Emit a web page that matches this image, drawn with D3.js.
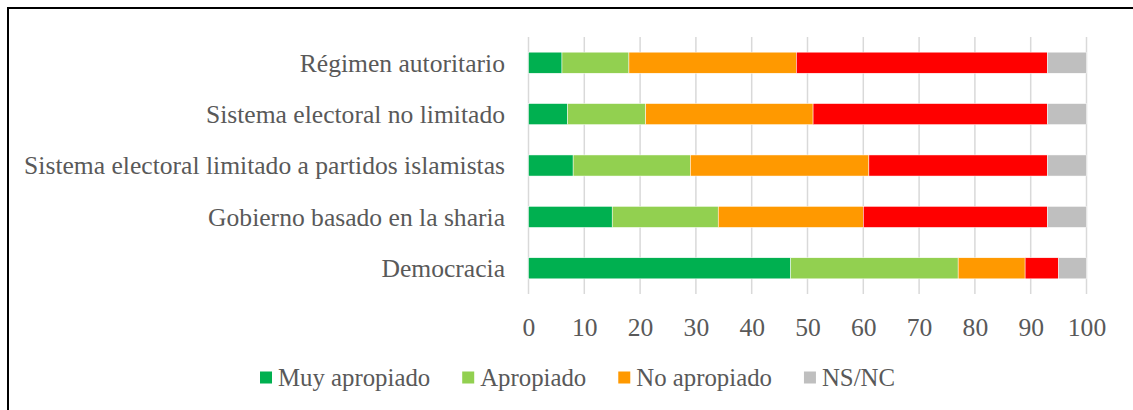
<!DOCTYPE html>
<html>
<head>
<meta charset="utf-8">
<script src="https://cdn.jsdelivr.net/npm/d3@7"></script>
<style>
  html, body { margin: 0; padding: 0; background: #fff; }
  svg { display: block; }
  text { font-family: "Liberation Serif", "DejaVu Serif", serif; fill: #595959; }
</style>
</head>
<body>
<div id="chart"></div>
<script>
const W = 1133;
const H = 410;

// rows, top to bottom
const categories = [
  "Régimen autoritario",
  "Sistema electoral no limitado",
  "Sistema electoral limitado a partidos islamistas",
  "Gobierno basado en la sharia",
  "Democracia",
];

const muyApropiado = [6, 7, 8, 15, 47];
const apropiado = [12, 14, 21, 19, 30];
const noApropiado = [30, 30, 32, 26, 12];
const nadaApropiado = [45, 42, 32, 33, 6]; // red series, no legend entry in the original
const nsnc = [7, 7, 7, 7, 5];

const seriesKeys = ["Muy apropiado", "Apropiado", "No apropiado", "Nada apropiado", "NS/NC"];
const seriesColors = ["#00B050", "#92D050", "#FF9900", "#FF0000", "#BFBFBF"];
const legendKeys = ["Muy apropiado", "Apropiado", "No apropiado", "NS/NC"];
const xTicks = [0, 10, 20, 30, 40, 50, 60, 70, 80, 90, 100];

const rows = categories.map((c, i) => ({
  cat: c,
  "Muy apropiado": muyApropiado[i],
  "Apropiado": apropiado[i],
  "No apropiado": noApropiado[i],
  "Nada apropiado": nadaApropiado[i],
  "NS/NC": nsnc[i],
}));

const svg = d3.select("#chart").append("svg")
  .attr("width", W)
  .attr("height", H);

// frame (only top and left edges fall inside the picture)
svg.append("path")
  .attr("d", `M8,${H + 5} V8 H${W + 5}`)
  .attr("fill", "none")
  .attr("stroke", "#000")
  .attr("stroke-width", 2);

const x = d3.scaleLinear().domain([0, 100]).range([528.5, 1086.5]);
const y = d3.scaleBand().domain(categories).range([37, 294]).paddingInner(0.59).paddingOuter(0.295);
const color = d3.scaleOrdinal().domain(seriesKeys).range(seriesColors);

// gridlines
svg.append("g")
  .selectAll("line")
  .data(xTicks)
  .join("line")
  .attr("x1", (d) => x(d))
  .attr("x2", (d) => x(d))
  .attr("y1", 37)
  .attr("y2", 294)
  .attr("stroke", "#d9d9d9")
  .attr("stroke-width", 1.5);

// bars
const stack = d3.stack().keys(seriesKeys);
svg.append("g")
  .selectAll("g")
  .data(stack(rows))
  .join("g")
  .attr("fill", (d) => color(d.key))
  .selectAll("rect")
  .data((d) => d)
  .join("rect")
  .attr("x", (d) => x(d[0]))
  .attr("width", (d) => x(d[1]) - x(d[0]))
  .attr("y", (d) => y(d.data.cat))
  .attr("height", y.bandwidth())
  .attr("stroke", "#fff")
  .attr("stroke-width", 0.5);

// category labels
const labels = svg.append("g")
  .selectAll("text")
  .data(categories)
  .join("text")
  .attr("x", 505)
  .attr("y", (d) => y(d) + y.bandwidth() / 2)
  .attr("dy", "0.35em")
  .attr("text-anchor", "end")
  .style("font-size", "20px")
  .text((d) => d);

// fit the longest label to the width it takes in the original (about 481px)
const longest = labels.filter((d) => d === categories[2]).node();
const fs = 20 * 481 / longest.getComputedTextLength();
labels.style("font-size", `${fs}px`);

// x tick labels
const xAxis = d3.axisBottom(x).tickValues(xTicks).tickSize(0).tickPadding(0);
const axisG = svg.append("g")
  .attr("transform", "translate(0,318)")
  .call(xAxis);
axisG.select(".domain").remove();
axisG.selectAll("text")
  .attr("dy", "0.7em")
  .style("font-size", `${fs}px`)
  .attr("fill", "#595959");

// legend
const gap = 32;
const legend = svg.append("g");
let lx = 0;
legendKeys.forEach((k) => {
  const item = legend.append("g").attr("transform", `translate(${lx},0)`);
  item.append("rect")
    .attr("x", 0)
    .attr("y", -6)
    .attr("width", 12)
    .attr("height", 12)
    .attr("fill", color(k));
  const t = item.append("text")
    .attr("x", 18)
    .attr("y", 0)
    .attr("dy", "0.35em")
    .style("font-size", `${fs * 0.97}px`)
    .text(k);
  lx += 18 + t.node().getComputedTextLength() + gap;
});
const legendW = lx - gap;
legend.attr("transform", `translate(${577.5 - legendW / 2},377.5)`);
</script>
</body>
</html>
